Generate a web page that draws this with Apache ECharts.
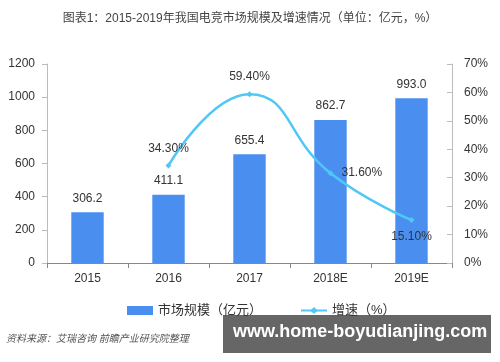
<!DOCTYPE html>
<html><head><meta charset="utf-8">
<script src="https://cdn.jsdelivr.net/npm/echarts@6/dist/echarts.min.js"></script>
<style>html,body{margin:0;padding:0;background:#fff}#c{width:500px;height:362px}</style>
</head><body><div id="c"></div>
<script>
const categories = ['2015','2016','2017','2018E','2019E'];
const marketSize = [306.2, 411.1, 655.4, 862.7, 993.0];
const growth = [null, 34.30, 59.40, 31.60, 15.10];
const leftTicks = [0,200,400,600,800,1000,1200];
const rightTicks = [0,10,20,30,40,50,60,70];
const growthLabelPos = [null,'top','top','right','bottom'];

const chart = echarts.init(document.getElementById('c'));
const font = '"Liberation Sans", Arial, "Noto Sans CJK SC", sans-serif';
chart.setOption({
  animation:false,
  textStyle:{fontFamily:font},
  title:{text:'图表1：2015-2019年我国电竞市场规模及增速情况（单位：亿元，%）',left:'center',top:8,
    textStyle:{fontSize:12,fontWeight:'normal',color:'#444',fontFamily:font}},
  grid:{left:47,right:48,top:64,bottom:99},
  legend:{bottom:40,left:122,itemGap:38,itemWidth:26,itemHeight:9,
    textStyle:{fontSize:13,color:'#333'},
    data:[{name:'市场规模（亿元）',icon:'rect'},{name:'增速（%）'}]},
  xAxis:{type:'category',data:categories,
    axisLine:{lineStyle:{color:'#888'}},axisTick:{show:true,lineStyle:{color:'#888'}},
    axisLabel:{color:'#333',fontSize:12,margin:10}},
  yAxis:[
    {type:'value',min:leftTicks[0],max:leftTicks[leftTicks.length-1],interval:200,
     axisLine:{show:true,lineStyle:{color:'#bbb'}},axisTick:{show:true,lineStyle:{color:'#bbb'}},
     splitLine:{show:false},axisLabel:{color:'#333',fontSize:12,margin:12,formatter:v=>String(v)}},
    {type:'value',min:rightTicks[0],max:rightTicks[rightTicks.length-1],interval:10,
     axisLine:{show:true,lineStyle:{color:'#bbb'}},axisTick:{show:true,inside:true,lineStyle:{color:'#bbb'}},
     splitLine:{show:false},axisLabel:{color:'#333',fontSize:12,margin:12,formatter:'{value}%'}}
  ],
  series:[
    {name:'市场规模（亿元）',type:'bar',data:marketSize,barWidth:'40%',
     itemStyle:{color:'#4a8ff0'},
     label:{show:true,position:'top',color:'#333',fontSize:12,distance:8,formatter:p=>p.value.toFixed(1)}},
    {name:'增速（%）',type:'line',yAxisIndex:1,smooth:true,connectNulls:false,
     data:growth.map((v,i)=>v==null?null:{value:v,label:{position:growthLabelPos[i]}}),
     symbol:'diamond',symbolSize:6,
     lineStyle:{color:'#4fc8f5',width:2.5},itemStyle:{color:'#4fc8f5'},
     label:{show:true,color:'#333',fontSize:12,distance:8,formatter:p=>p.value.toFixed(2)+'%'}}
  ],
  graphic:[
    {type:'text',left:6,top:334,style:{text:'资料来源：艾瑞咨询 前瞻产业研究院整理',fontSize:10,fontStyle:'italic',fill:'#555',fontFamily:font}},
    {type:'text',left:410,top:336,style:{text:'前瞻产业研究院APP',fontSize:9,fill:'#777',fontFamily:font}},
    {type:'rect',shape:{x:223,y:315,width:268,height:38},style:{fill:'#666'}},
    {type:'text',left:233,top:323,style:{text:'www.home-boyudianjing.com',fontSize:18,fontWeight:'bold',fill:'#fff',fontFamily:'"Liberation Sans", Arial, sans-serif'}}
  ]
});
</script></body></html>
